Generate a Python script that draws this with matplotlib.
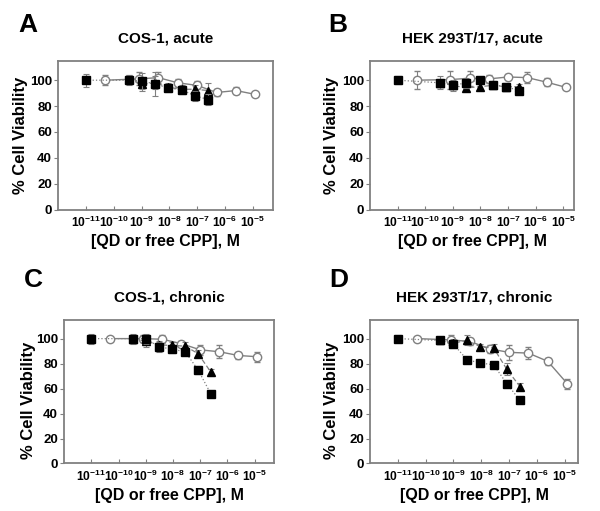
import numpy as np
import matplotlib
matplotlib.use("Agg")
import matplotlib.pyplot as plt

plt.rcParams['font.family'] = ['Liberation Sans', 'DejaVu Sans']
plt.rcParams['font.weight'] = 'bold'
plt.rcParams['mathtext.fontset'] = 'custom'
plt.rcParams['mathtext.rm'] = 'Liberation Sans:bold'
plt.rcParams['mathtext.bf'] = 'Liberation Sans:bold'
plt.rcParams['mathtext.it'] = 'Liberation Sans:bold'

# concentrations (M)
x_sq = [1e-11, 3.4e-10, 1e-9, 3.1e-9, 9.3e-9, 2.8e-8, 8.3e-8, 2.5e-7]
x_tri = [3.4e-10, 1e-9, 3.1e-9, 9.3e-9, 2.8e-8, 8.3e-8, 2.5e-7]
x_circ = [5e-11, 8e-10, 4e-9, 2e-8, 1e-7, 5e-7, 2.5e-6, 1.25e-5]

panel_letters = ["A", "B", "C", "D"]
panel_titles = ["COS-1, acute", "HEK 293T/17, acute", "COS-1, chronic", "HEK 293T/17, chronic"]

# A
sq_A = [100, 100, 99.5, 97, 94, 92.5, 88, 85]
sq_A_err = [5, 4, 6, 9, 3, 3, 4, 4]
tri_A = [101, 97, 98, 94.5, 93, 93, 92]
tri_A_err = [3, 5, 5, 3, 3, 3, 6]
circ_A = [100, 101, 102, 98, 96, 90.5, 92, 89]
circ_A_err = [4, 5, 4, 3, 3, 3, 3, 1]
# B
sq_B = [100, 98, 96, 98, 100, 96.5, 95, 92]
sq_B_err = [3, 5, 4, 4, 2, 3, 3, 2]
tri_B = [98, 96, 94, 95, 96, 95, 95]
tri_B_err = [3, 3, 2, 2, 2, 2, 2]
circ_B = [100, 100.5, 101.5, 101, 102.5, 102, 98.5, 94.5]
circ_B_err = [7, 7, 6, 3, 2, 4, 3, 1]
# C
sq_C = [100, 100, 100, 93.5, 91.5, 89.5, 75, 55.5]
sq_C_err = [4, 4, 4, 4, 3, 2, 3, 1.5]
tri_C = [100, 98, 95, 94.5, 94, 88, 73]
tri_C_err = [2, 5, 3, 3, 3, 3, 3]
circ_C = [100, 100, 99.5, 96, 91, 89.5, 86.5, 85.5]
circ_C_err = [1, 3, 3, 2, 4, 5, 3, 4]
# D
sq_D = [100, 98.5, 95.5, 83, 80.5, 79, 64, 50.5]
sq_D_err = [3, 3, 3, 2, 1.5, 1, 3, 1]
tri_D = [98.5, 96.5, 98.5, 93.5, 92.5, 75.5, 61.5]
tri_D_err = [3, 3, 4, 2, 3, 5, 3]
circ_D = [100, 99, 97.7, 91.8, 89, 88.4, 81.8, 64]
circ_D_err = [1, 4, 3, 3, 6, 5, 3, 4]

squares = [(sq_A, sq_A_err), (sq_B, sq_B_err), (sq_C, sq_C_err), (sq_D, sq_D_err)]
triangles = [(tri_A, tri_A_err), (tri_B, tri_B_err), (tri_C, tri_C_err), (tri_D, tri_D_err)]
circles = [(circ_A, circ_A_err), (circ_B, circ_B_err), (circ_C, circ_C_err), (circ_D, circ_D_err)]

tick_pos = [1e-11, 1e-10, 1e-9, 1e-8, 1e-7, 1e-6, 1e-5]
tick_lab = [r'$10^{%d}$' % e for e in range(-11, -4)]

# axes rectangles (fig fraction) and right x limit
rects = [[0.097, 0.590, 0.358, 0.291], [0.617, 0.590, 0.340, 0.291],
         [0.107, 0.093, 0.350, 0.281], [0.617, 0.093, 0.347, 0.281]]
xright = [10**-4.27, 10**-4.6, 10**-4.28, 10**-4.5]
letter_pos = [(0.030, 0.937), (0.547, 0.937), (0.040, 0.439), (0.548, 0.439)]
ylab_pos = [(0.035, 0.736), (0.553, 0.736), (0.048, 0.217), (0.552, 0.217)]

gray = '#808080'
fig = plt.figure(figsize=(6, 5.11), dpi=100)

for i in range(4):
    ax = fig.add_axes(rects[i])
    ax.set_xscale('log')
    ax.set_xlim(1e-12, xright[i])
    ax.set_ylim(0, 115)

    c, ce = circles[i]
    ax.errorbar(x_circ, c, yerr=ce, color=gray, lw=1, ls='-', marker='o', ms=6,
                mfc='white', mec=gray, mew=1, ecolor=gray, elinewidth=0.8,
                capsize=2.5, capthick=0.8, zorder=2)
    t, te = triangles[i]
    ax.errorbar(x_tri, t, yerr=te, color=gray, lw=0.9, ls=(0, (4, 2)), marker='^', ms=5.5,
                mfc='black', mec='black', ecolor=gray, elinewidth=0.8,
                capsize=2.5, capthick=0.8, zorder=3)
    s, se = squares[i]
    ax.errorbar(x_sq, s, yerr=se, color=gray, lw=0.9, ls=':', marker='s', ms=5.5,
                mfc='black', mec='black', ecolor=gray, elinewidth=0.8,
                capsize=2.5, capthick=0.8, zorder=4)

    ax.set_xticks(tick_pos)
    ax.set_xticklabels(tick_lab)
    ax.minorticks_off()
    ax.set_yticks([0, 20, 40, 60, 80, 100])
    ax.tick_params(axis='x', direction='in', length=3, width=0.8, color=gray,
                   labelsize=8.7, pad=4)
    ax.tick_params(axis='y', direction='out', length=3, width=0.8, color=gray,
                   labelsize=9.5, pad=1.5)
    for lab in ax.get_yticklabels():
        lab.set_fontweight('bold')
    for sp in ax.spines.values():
        sp.set_color(gray)
        sp.set_linewidth(1.3)

    ax.set_title(panel_titles[i], fontsize=11, fontweight='bold', pad=13)
    ax.set_xlabel('[QD or free CPP], M', fontsize=11.5, fontweight='bold', labelpad=3)
    fig.text(ylab_pos[i][0], ylab_pos[i][1], '% Cell Viability', rotation=90,
             ha='center', va='center', fontsize=12, fontweight='bold')
    fig.text(letter_pos[i][0], letter_pos[i][1], panel_letters[i], fontsize=19,
             fontweight='bold', ha='left', va='baseline')

fig.savefig('out.png', dpi=100)
